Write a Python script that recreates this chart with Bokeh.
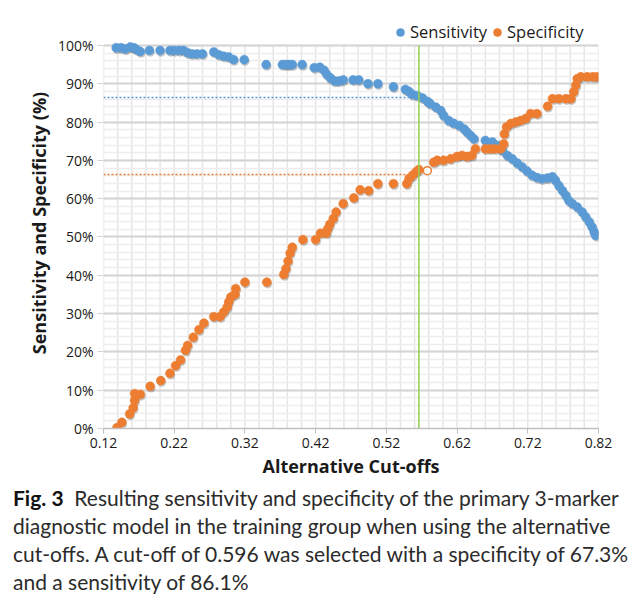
from bokeh.plotting import figure
from bokeh.models import (Legend, LegendItem, FixedTicker, PrintfTickFormatter,
                          Div, ColumnDataSource, Range1d)
from bokeh.layouts import column
from bokeh.embed import file_html
from bokeh.resources import INLINE
from bokeh.transform import dodge

# ---------------- data ----------------
sens_x = [0.138, 0.145, 0.151, 0.158, 0.163, 0.167, 0.172, 0.185, 0.200, 0.214, 0.220, 0.227,
          0.233, 0.239, 0.245, 0.252, 0.260, 0.276, 0.283, 0.290, 0.297, 0.304, 0.319, 0.350,
          0.373, 0.378, 0.382, 0.387, 0.401, 0.418, 0.426, 0.432, 0.436, 0.441, 0.447, 0.453,
          0.459, 0.473, 0.481, 0.494, 0.508, 0.530, 0.547, 0.552, 0.557, 0.564, 0.571, 0.578,
          0.582, 0.590, 0.597, 0.601, 0.608, 0.615, 0.623, 0.630, 0.634, 0.639, 0.644, 0.660,
          0.670, 0.677, 0.684, 0.691, 0.698, 0.705, 0.712, 0.719, 0.726, 0.733, 0.740, 0.748,
          0.755, 0.759, 0.764, 0.769, 0.774, 0.778, 0.783, 0.790, 0.797, 0.802, 0.807, 0.811,
          0.814, 0.816]
sens_y = [99.4, 99.4, 99.1, 99.6, 99.4, 98.9, 98.4, 98.7, 98.7, 98.7, 98.7, 98.7,
          98.7, 98.1, 97.8, 97.8, 97.8, 98.3, 97.6, 97.2, 97.0, 96.3, 96.3, 95.0,
          95.0, 95.0, 95.0, 95.0, 95.0, 94.2, 94.3, 93.5, 92.4, 91.5, 90.7, 90.7,
          91.0, 91.0, 91.0, 90.0, 90.0, 89.2, 88.5, 88.0, 87.2, 86.9, 86.3, 85.4,
          84.8, 83.9, 83.0, 81.7, 80.4, 79.7, 79.1, 78.2, 77.4, 76.5, 75.6, 75.2,
          74.8, 73.9, 72.6, 71.3, 70.4, 69.3, 68.3, 67.2, 66.1, 65.5, 65.2, 65.4,
          65.7, 64.8, 63.4, 62.1, 60.8, 59.5, 58.7, 57.8, 56.5, 55.2, 53.9, 52.6,
          51.3, 50.4]

spec_x = [0.139, 0.146, 0.157, 0.162, 0.164, 0.164, 0.172, 0.186, 0.201, 0.214, 0.222, 0.229,
          0.236, 0.239, 0.247, 0.255, 0.262, 0.276, 0.285, 0.290, 0.295, 0.297, 0.300, 0.306,
          0.307, 0.320, 0.351, 0.375, 0.378, 0.381, 0.384, 0.387, 0.402, 0.420, 0.427, 0.435,
          0.437, 0.440, 0.445, 0.449, 0.459, 0.474, 0.483, 0.495, 0.508, 0.530, 0.549, 0.552,
          0.557, 0.562, 0.566, 0.587, 0.592, 0.601, 0.611, 0.620, 0.627, 0.634, 0.641, 0.646,
          0.660, 0.667, 0.674, 0.682, 0.686, 0.687, 0.690, 0.696, 0.703, 0.710, 0.717, 0.724,
          0.733, 0.748, 0.755, 0.764, 0.774, 0.781, 0.785, 0.788, 0.790, 0.795, 0.804, 0.812,
          0.818]
spec_y = [0.2, 1.6, 3.8, 5.4, 7.3, 9.1, 8.9, 11.0, 12.5, 14.4, 16.4, 17.9,
          20.4, 21.7, 23.8, 25.8, 27.5, 29.2, 29.2, 30.4, 31.7, 33.0, 34.3, 35.0,
          36.5, 38.2, 38.2, 40.2, 41.7, 43.7, 45.8, 47.3, 49.3, 49.3, 51.0, 51.0,
          52.1, 53.3, 54.8, 56.5, 58.7, 60.2, 62.3, 62.1, 63.9, 63.9, 63.9, 65.2,
          66.1, 67.0, 67.6, 69.5, 70.0, 70.0, 70.4, 71.0, 71.3, 71.0, 71.3, 73.0,
          73.0, 73.0, 73.0, 73.0, 74.3, 76.9, 78.7, 79.6, 80.0, 80.4, 80.9, 82.2,
          82.2, 84.1, 86.1, 86.1, 86.1, 86.1, 87.9, 89.6, 91.3, 91.8, 91.8, 91.8,
          91.8]

selected_x = [0.578]          # hollow marker (selected cut-off)
selected_spec = [67.3]
cutoff_line_x = 0.566         # green vertical line
sens_ref_y = 86.4             # blue dotted reference level
spec_ref_y = 66.3             # orange dotted reference level

x_ticks = [0.12, 0.22, 0.32, 0.42, 0.52, 0.62, 0.72, 0.82]
x_minor = [round(0.12 + 0.02 * i, 2) for i in range(36)]
y_ticks = list(range(0, 101, 10))
y_minor = list(range(0, 101, 2))
y_max = 100

caption_lines = [
    "Resulting sensitivity and specificity of the primary 3-marker",
    "diagnostic model in the training group when using the alternative",
    "cut-offs. A cut-off of 0.596 was selected with a specificity of 67.3%",
    "and a sensitivity of 86.1%",
]

BLUE = "#5B9BD5"
ORANGE = "#ED7D31"
GREEN = "#92D050"
FONT = "Open Sans"
TXT = "#1a1a1a"

# ---------------- figure ----------------
# the frame reaches a little above 100% so that the legend sits inside it
p = figure(width=630, height=480, x_range=Range1d(0.12, 0.82), y_range=Range1d(0, 107.3),
           output_backend="svg", toolbar_location=None,
           min_border_left=103, min_border_right=32, min_border_top=17, min_border_bottom=52)
p.outline_line_color = None
p.background_fill_color = "white"

# grids (vertical grid lines drawn only up to 100%)
p.xgrid.visible = False
p.segment(x0=x_minor, y0=[0] * len(x_minor), x1=x_minor, y1=[y_max] * len(x_minor),
          line_color="#E6E6E6", line_width=1.5, level="underlay")
p.ygrid.ticker = FixedTicker(ticks=y_ticks, minor_ticks=y_minor)
p.ygrid.grid_line_color = "#D4D4D4"
p.ygrid.grid_line_width = 2
p.ygrid.minor_grid_line_color = "#EDEDED"
p.ygrid.minor_grid_line_width = 1.5

# axes
p.xaxis.ticker = FixedTicker(ticks=x_ticks, minor_ticks=x_minor)
p.xaxis.formatter = PrintfTickFormatter(format="%.2f")
p.xaxis.axis_line_color = "#BFBFBF"
p.xaxis.axis_line_width = 1.5
p.xaxis.major_tick_line_color = "#BFBFBF"
p.xaxis.major_tick_out = 5
p.xaxis.major_tick_in = 0
p.xaxis.minor_tick_line_color = None
p.xaxis.axis_label = "Alternative Cut-offs"

p.yaxis.ticker = FixedTicker(ticks=y_ticks, minor_ticks=y_minor)
p.yaxis.formatter = PrintfTickFormatter(format="%d%%")
p.yaxis.axis_line_color = None
p.yaxis.major_tick_line_color = "#D4D4D4"
p.yaxis.major_tick_out = 6
p.yaxis.major_tick_in = 0
p.yaxis.minor_tick_line_color = None
p.yaxis.axis_label = "Sensitivity and Specificity (%)"

for ax in (p.xaxis[0], p.yaxis[0]):
    ax.major_label_text_font = FONT
    ax.major_label_text_font_size = "14px"
    ax.major_label_text_color = TXT
    ax.major_label_standoff = 4
    ax.axis_label_text_font = FONT
    ax.axis_label_text_font_size = "18px"
    ax.axis_label_text_font_style = "bold"
    ax.axis_label_text_color = TXT
p.xaxis.axis_label_standoff = 3
p.yaxis.axis_label_standoff = 4

# ---------------- data glyphs ----------------
sens_src = ColumnDataSource(dict(x=sens_x, y=sens_y))
spec_src = ColumnDataSource(dict(x=spec_x, y=spec_y))

# soft drop shadows
for src in (sens_src, spec_src):
    p.scatter(x=dodge("x", 0.0012), y=dodge("y", -0.45), source=src, size=9,
              fill_color="black", fill_alpha=0.22, line_color=None)

r_sens = p.scatter("x", "y", source=sens_src, size=9, fill_color=BLUE, line_color=BLUE,
                   line_width=0.5)
r_spec = p.scatter("x", "y", source=spec_src, size=9, fill_color=ORANGE, line_color=ORANGE,
                   line_width=0.5)

# dotted reference lines up to the cut-off
p.line([0.12, cutoff_line_x - 0.006], [sens_ref_y, sens_ref_y], line_color=BLUE,
       line_width=1.5, line_dash="2 2")
p.line([0.12, cutoff_line_x - 0.004], [spec_ref_y, spec_ref_y], line_color=ORANGE,
       line_width=1.5, line_dash="2 2")

# selected cut-off marker
p.scatter(selected_x, selected_spec, size=8, fill_color="white", line_color=ORANGE,
          line_width=1.5)

# cut-off vertical line (0% .. 100%)
p.segment(x0=[cutoff_line_x], y0=[0], x1=[cutoff_line_x], y1=[y_max],
          line_color=GREEN, line_width=1.5)

# legend at the top right
legend = Legend(items=[LegendItem(label="Sensitivity", renderers=[r_sens]),
                       LegendItem(label="Specificity", renderers=[r_spec])],
                orientation="horizontal", location=(287, 385),
                label_text_font=FONT, label_text_font_size="16.5px",
                label_text_color=TXT, label_height=20,
                glyph_width=20, glyph_height=20, label_standoff=0, spacing=0,
                padding=0, margin=0, border_line_color=None, background_fill_alpha=0)
p.add_layout(legend, "center")

# ---------------- caption ----------------
caption_html = (
    '<div style="font-family: Lato, sans-serif; font-size: 21px; line-height: 28px; '
    'color: #2b2b2b; padding: 4px 0 0 13px; white-space: nowrap;">'
    '<b style="color:#111;">Fig.&nbsp;3</b>&nbsp;&nbsp;' + "<br>".join(caption_lines) + '</div>'
)
caption = Div(text=caption_html, width=630, height=116, margin=(0, 0, 0, 0))

layout = column(p, caption, spacing=0)
open("out.html", "w").write(file_html(layout, INLINE))
